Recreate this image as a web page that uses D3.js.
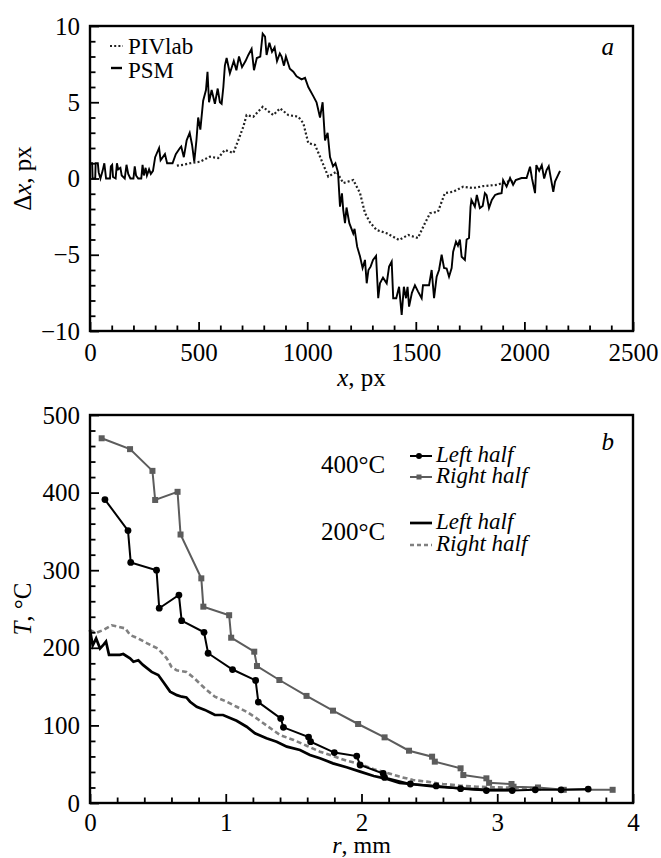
<!DOCTYPE html>
<html><head><meta charset="utf-8">
<script src="https://cdn.jsdelivr.net/npm/d3@7"></script>
<style>
html,body{margin:0;padding:0;background:#fff;}
svg{display:block;}
svg text{font-family:"Liberation Serif","DejaVu Serif","Times New Roman",Times,serif;fill:#000;}
</style></head>
<body><svg id="c" width="661" height="858"></svg>
<script>
// ---------- Panel a data ----------
const psm = [[0,1.0],[10,1.0],[12,0],[24,0],[26,1.0],[36,1.0],[40,0.4],[48,0],[58,0.5],[66,1.0],[74,0],[92,0],[96,0.8],[102,0.9],[106,0.1],[118,0],[124,1.0],[130,0.6],[140,0.7],[146,0.2],[160,0],[168,0.9],[176,0.3],[186,0],[200,0],[206,0.8],[212,0.2],[222,0],[236,0],[242,0.9],[248,0.2],[256,0.7],[262,0.2],[272,0.6],[280,0.3],[290,0.5],
[300,1.4],[318,2.0],[325,1.2],[345,1.6],[355,1.0],[380,1.0],[395,1.6],[414,2.0],[420,2.1],[432,1.4],[445,2.5],[459,3.0],[470,2.2],[480,1.1],[490,2.5],[498,4.0],[508,3.2],[521,5.1],[534,5.8],[541,7.0],[548,5.0],[560,5.8],[575,4.9],[588,5.9],[598,5.0],[606,4.9],[614,6.0],[621,7.4],[629,7.9],[644,6.9],[662,7.7],[674,7.1],[686,8.0],[700,7.3],[716,7.7],[729,8.1],[744,8.5],[755,7.1],[768,7.9],[784,8.0],[795,9.5],[806,9.3],[813,8.1],[826,8.9],[838,8.3],[850,8.6],[861,7.7],[874,8.2],[882,8.0],[893,7.4],[902,8.0],[920,7.2],[936,7.0],[951,6.7],[974,6.5],[990,6.6],[1005,6.0],[1028,5.4],[1043,5.0],[1059,4.0],[1071,5.0],[1082,2.5],[1094,3.0],[1105,1.4],[1119,0.8],[1130,1.0],[1142,0.4],[1151,-1.85],[1160,-0.97],[1166,-2.07],[1174,-2.93],[1181,-1.9],[1194,-2.93],[1212,-3.6],[1218,-3.3],[1230,-4.47],[1243,-5.1],[1255,-5.87],[1266,-5.34],[1274,-6.87],[1282,-6.0],[1292,-5.78],[1303,-5.34],[1317,-5.08],[1327,-7.85],[1335,-6.87],[1349,-6.5],[1366,-6.87],[1377,-5.78],[1389,-5.45],[1396,-7.85],[1410,-7.85],[1423,-7.1],[1435,-8.95],[1445,-7.1],[1455,-7.85],[1462,-7.1],[1469,-8.4],[1482,-7.5],[1496,-7.0],[1510,-7.4],[1527,-7.85],[1533,-7.0],[1561,-7.0],[1573,-6.0],[1584,-7.85],[1596,-6.44],[1607,-6.0],[1619,-5.0],[1630,-5.87],[1642,-5.9],[1653,-6.44],[1665,-5.87],[1672,-4.8],[1685,-4.14],[1694,-4.4],[1703,-4.0],[1711,-5.13],[1726,-5.34],[1734,-4.0],[1745,-3.9],[1752,-1.85],[1756,-1.4],[1772,-1.85],[1781,-1.08],[1795,-1.94],[1808,-1.8],[1818,-0.96],[1826,-1.1],[1837,-1.94],[1850,-1.4],[1865,-1.08],[1880,-1.0],[1895,-0.96],[1902,-0.1],[1918,-0.53],[1934,0.03],[1948,-0.42],[1960,-0.1],[1987,0.03],[2010,0.03],[2026,0.77],[2035,0.0],[2049,-0.96],[2055,0.88],[2068,0.5],[2080,0.88],[2091,0.0],[2102,0.55],[2112,0.8],[2133,-0.87],[2141,-0.2],[2164,0.5]];
const pivlab = [[400,0.84],[430,0.9],[460,1.0],[506,1.1],[552,1.43],[590,1.34],[621,1.87],[660,1.67],[683,2.52],[706,3.4],[721,4.16],[752,4.05],[795,4.7],[844,4.16],[875,4.6],[913,4.16],[959,4.05],[982,3.63],[1005,2.32],[1036,2.2],[1059,1.43],[1097,0.12],[1135,0.45],[1166,-0.3],[1212,-0.1],[1243,-0.95],[1266,-2.27],[1290,-2.9],[1320,-3.38],[1366,-3.59],[1423,-4.03],[1465,-3.7],[1510,-3.9],[1542,-2.93],[1566,-2.27],[1602,-2.18],[1634,-0.96],[1672,-0.87],[1718,-0.54],[1764,-0.63],[1810,-0.5],[1873,-0.42],[1918,-0.2],[1950,-0.2]];
const aXTicks = [0,500,1000,1500,2000,2500];
const aYTicks = [-10,-5,0,5,10];

// ---------- Panel b data ----------
const left400 = [[0.11,391],[0.28,351],[0.30,310],[0.49,300],[0.51,251],[0.655,268],[0.675,235],[0.84,220],[0.87,193],[1.05,172],[1.22,158],[1.24,130],[1.405,109],[1.425,97.5],[1.61,85],[1.625,79],[1.80,65],[1.965,60.5],[1.99,49],[2.16,38],[2.17,33],[2.36,24.5],[2.55,22],[2.73,18.5],[2.92,16],[3.11,16],[3.28,17],[3.47,17],[3.67,18]];
const right400 = [[0.086,470],[0.295,456],[0.46,428],[0.48,390.5],[0.645,401],[0.667,346],[0.82,289.5],[0.835,253],[1.025,242],[1.04,213],[1.21,195],[1.23,176.5],[1.395,158.5],[1.595,138],[1.79,119],[1.975,101.8],[2.17,84.6],[2.35,67.4],[2.52,59.7],[2.54,53.3],[2.73,44.7],[2.75,36],[2.92,31.8],[2.94,26],[3.105,24.5],[3.12,21],[3.30,20],[3.49,17],[3.85,17]];
const left200 = [[0,223],[0.02,203],[0.045,212],[0.074,199],[0.10,204],[0.118,208],[0.14,191],[0.22,191],[0.245,192],[0.295,186.5],[0.32,182],[0.356,184],[0.39,178],[0.454,169],[0.503,165],[0.54,156],[0.59,143.5],[0.64,139],[0.676,137],[0.71,136],[0.737,130.5],[0.786,124],[0.846,120],[0.896,115.6],[0.92,113.4],[0.98,113.4],[1.08,106],[1.154,98.3],[1.215,89.8],[1.30,83.3],[1.375,79],[1.45,72.6],[1.547,68.3],[1.62,61.9],[1.694,57.6],[1.79,51.1],[1.89,46],[1.99,40.4],[2.09,34.8],[2.17,31.8],[2.28,26],[2.36,24.5],[2.55,21],[2.73,19],[2.92,16.8],[3.1,17]];
const right200 = [[0,223],[0.04,219],[0.1,223],[0.16,229],[0.21,227],[0.26,225],[0.295,216.5],[0.356,212],[0.418,206],[0.5,199],[0.565,186.5],[0.6,175.6],[0.638,171],[0.71,169],[0.77,160.6],[0.82,152],[0.86,145.6],[0.92,137],[1.007,130.5],[1.08,124],[1.154,117.6],[1.228,109],[1.313,98.3],[1.4,87.6],[1.5,81.2],[1.6,73.5],[1.694,66.1],[1.79,60.6],[1.89,54.5],[1.99,50.3],[2.09,43.4],[2.185,39],[2.28,34],[2.38,29.6],[2.48,27.5],[2.6,24.5],[2.73,22.3],[2.85,21],[2.97,20.2],[3.12,19.8],[3.26,19]];
const bXTicks = [0,1,2,3,4];
const bYTicks = [0,100,200,300,400,500];

// ---------- drawing ----------
const svg = d3.select("#c");
const FS = 25, LFS = 23;
const gray = "#5c5c5c", lgray = "#808080";

function frame(g, x, y, xMajor, yMajor, xMinorStep, yMinorStep, xPad) {
  const [x0,x1] = x.domain(), [y0,y1] = y.domain();
  const xMinor = d3.range(x0, x1 + 1e-9, xMinorStep).filter(v => !xMajor.some(m => Math.abs(m-v) < 1e-9));
  const yMinor = d3.range(y0, y1 + 1e-9, yMinorStep).filter(v => !yMajor.some(m => Math.abs(m-v) < 1e-9));
  const h = y.range()[0];
  g.append("g").attr("transform", `translate(0,${h})`)
    .call(d3.axisBottom(x).tickValues(xMajor).tickSize(-9).tickPadding(xPad).tickFormat(d3.format("d")));
  g.append("g").attr("transform", `translate(0,${h})`)
    .call(d3.axisBottom(x).tickValues(xMinor).tickSize(-5.5).tickFormat(""));
  g.append("g").call(d3.axisLeft(y).tickValues(yMajor).tickSize(-9).tickPadding(10).tickFormat(d3.format("d")));
  g.append("g").call(d3.axisLeft(y).tickValues(yMinor).tickSize(-5.5).tickFormat(""));
  g.selectAll(".domain").remove();
  g.selectAll("g").attr("font-family", null).attr("font-size", null);
  g.selectAll(".tick line").attr("stroke", "#000").attr("stroke-width", 1.8);
  g.selectAll(".tick text").attr("font-size", FS).attr("fill", "#000");
  g.append("rect").attr("x", 0).attr("y", 0).attr("width", x.range()[1]).attr("height", h)
    .attr("fill", "none").attr("stroke", "#000").attr("stroke-width", 2.4);
}

// Panel a
const A = {l: 90, t: 26, w: 543, h: 305};
const ga = svg.append("g").attr("transform", `translate(${A.l},${A.t})`);
const xa = d3.scaleLinear().domain([0, 2500]).range([0, A.w]);
const ya = d3.scaleLinear().domain([-10, 10]).range([A.h, 0]);
const lineA = d3.line().x(d => xa(d[0])).y(d => ya(d[1]));
ga.append("path").datum(pivlab).attr("d", lineA).attr("fill", "none").attr("stroke", "#222")
  .attr("stroke-width", 2.2).attr("stroke-dasharray", "2,2.2");
ga.append("path").datum(psm).attr("d", lineA).attr("fill", "none").attr("stroke", "#000")
  .attr("stroke-width", 1.9).attr("stroke-linejoin", "miter");
frame(ga, xa, ya, aXTicks, aYTicks, 100, 1, 12);

// legend a
ga.append("line").attr("x1", 20).attr("x2", 33).attr("y1", 20).attr("y2", 20)
  .attr("stroke", "#222").attr("stroke-width", 2.2).attr("stroke-dasharray", "2,2.2");
ga.append("text").attr("x", 38).attr("y", 28).attr("font-size", LFS).text("PIVlab");
ga.append("line").attr("x1", 21).attr("x2", 32).attr("y1", 42).attr("y2", 42)
  .attr("stroke", "#000").attr("stroke-width", 2.4);
ga.append("text").attr("x", 38).attr("y", 52).attr("font-size", LFS).text("PSM");
ga.append("text").attr("x", A.w - 19).attr("y", 29).attr("font-size", FS).attr("font-style", "italic")
  .attr("text-anchor", "end").text("a");

// axis titles a
const ta = svg.append("text").attr("x", A.l + A.w/2).attr("y", 386).attr("font-size", FS).attr("text-anchor", "middle");
ta.append("tspan").attr("font-style", "italic").text("x");
ta.append("tspan").text(", px");
const tya = svg.append("text").attr("transform", `translate(31,${A.t + A.h/2}) rotate(-90)`)
  .attr("font-size", FS).attr("text-anchor", "middle");
tya.append("tspan").text("Δ");
tya.append("tspan").attr("font-style", "italic").text("x");
tya.append("tspan").text(", px");

// Panel b
const B = {l: 90, t: 415, w: 543, h: 388};
const gb = svg.append("g").attr("transform", `translate(${B.l},${B.t})`);
const xb = d3.scaleLinear().domain([0, 4]).range([0, B.w]);
const yb = d3.scaleLinear().domain([0, 500]).range([B.h, 0]);
const lineB = d3.line().x(d => xb(d[0])).y(d => yb(d[1]));

gb.append("path").datum(right200).attr("d", lineB).attr("fill", "none").attr("stroke", lgray)
  .attr("stroke-width", 2.6).attr("stroke-dasharray", "5,3");
gb.append("path").datum(left200).attr("d", lineB).attr("fill", "none").attr("stroke", "#000")
  .attr("stroke-width", 2.7);
gb.append("path").datum(right400).attr("d", lineB).attr("fill", "none").attr("stroke", gray)
  .attr("stroke-width", 2);
gb.selectAll("rect.sq").data(right400).enter().append("rect").attr("class", "sq")
  .attr("x", d => xb(d[0]) - 3).attr("y", d => yb(d[1]) - 3).attr("width", 6).attr("height", 6).attr("fill", gray);
gb.append("path").datum(left400).attr("d", lineB).attr("fill", "none").attr("stroke", "#000")
  .attr("stroke-width", 2);
gb.selectAll("circle.dot").data(left400).enter().append("circle").attr("class", "dot")
  .attr("cx", d => xb(d[0])).attr("cy", d => yb(d[1])).attr("r", 3.4).attr("fill", "#000");

frame(gb, xb, yb, bXTicks, bYTicks, 0.2, 20, 10);

// legend b
gb.append("text").attr("x", B.w - 19).attr("y", 35).attr("font-size", FS).attr("font-style", "italic")
  .attr("text-anchor", "end").text("b");
gb.append("text").attr("x", 231).attr("y", 58).attr("font-size", FS).text("400°C");
gb.append("text").attr("x", 231).attr("y", 125).attr("font-size", FS).text("200°C");
const lgx1 = 320, lgx2 = 342, ltx = 346;
gb.append("line").attr("x1", lgx1).attr("x2", lgx2).attr("y1", 41).attr("y2", 41).attr("stroke", "#000").attr("stroke-width", 2);
gb.append("circle").attr("cx", (lgx1+lgx2)/2 - 2).attr("cy", 41).attr("r", 3).attr("fill", "#000");
gb.append("text").attr("x", ltx).attr("y", 47).attr("font-size", LFS).attr("font-style", "italic").text("Left half");
gb.append("line").attr("x1", lgx1).attr("x2", lgx2).attr("y1", 62).attr("y2", 62).attr("stroke", gray).attr("stroke-width", 2);
gb.append("rect").attr("x", (lgx1+lgx2)/2 - 4.5).attr("y", 59.5).attr("width", 5).attr("height", 5).attr("fill", gray);
gb.append("text").attr("x", ltx).attr("y", 68).attr("font-size", LFS).attr("font-style", "italic").text("Right half");
gb.append("line").attr("x1", lgx1).attr("x2", lgx2).attr("y1", 108).attr("y2", 108).attr("stroke", "#000").attr("stroke-width", 2.7);
gb.append("text").attr("x", ltx).attr("y", 114).attr("font-size", LFS).attr("font-style", "italic").text("Left half");
gb.append("line").attr("x1", lgx1).attr("x2", lgx2).attr("y1", 130).attr("y2", 130).attr("stroke", lgray).attr("stroke-width", 2.6).attr("stroke-dasharray", "4,3");
gb.append("text").attr("x", ltx).attr("y", 136).attr("font-size", LFS).attr("font-style", "italic").text("Right half");

// axis titles b
const tb = svg.append("text").attr("x", B.l + B.w/2).attr("y", 853).attr("font-size", 24).attr("text-anchor", "middle");
tb.append("tspan").attr("font-style", "italic").text("r");
tb.append("tspan").text(", mm");
const tyb = svg.append("text").attr("transform", `translate(31,${B.t + B.h/2}) rotate(-90)`)
  .attr("font-size", FS).attr("text-anchor", "middle");
tyb.append("tspan").attr("font-style", "italic").text("T");
tyb.append("tspan").text(", °C");
</script></body></html>
